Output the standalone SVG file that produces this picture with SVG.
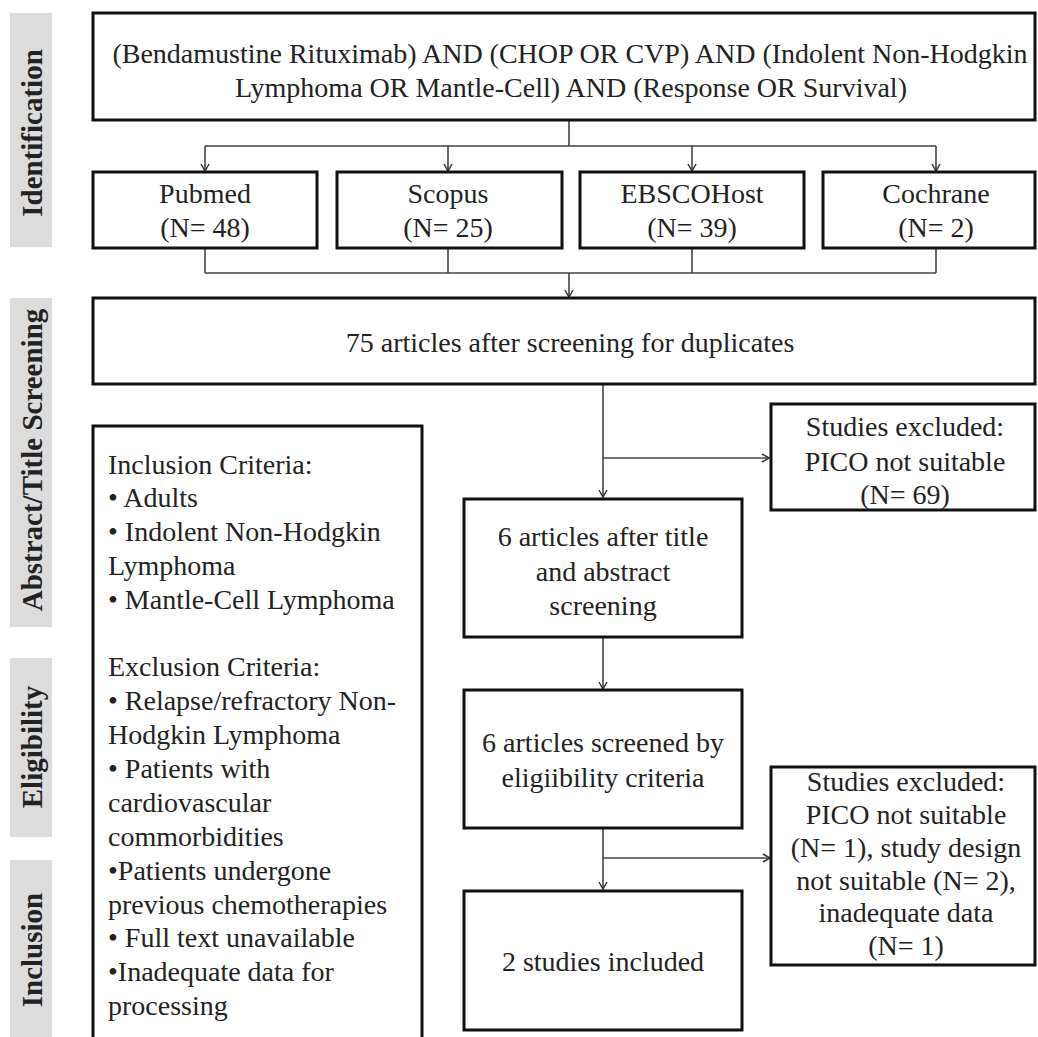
<svg xmlns="http://www.w3.org/2000/svg" width="1038" height="1037" viewBox="0 0 1038 1037">
<defs>
<marker id="arr" markerWidth="10" markerHeight="10" refX="8" refY="5" orient="auto" markerUnits="userSpaceOnUse">
<path d="M1,1 L8,5 L1,9" fill="none" stroke="#333" stroke-width="1.5"/>
</marker>
<style>
.box{fill:#fff;stroke:#111;stroke-width:3}
.lab{fill:#dcdcdc}
.lt{font-family:"Liberation Serif","Times New Roman",serif;font-weight:bold;font-size:29px;fill:#222;text-anchor:middle}
.t{font-family:"Liberation Serif","Times New Roman",serif;font-size:28px;fill:#222;text-anchor:middle}
.tl{font-family:"Liberation Serif","Times New Roman",serif;font-size:28px;fill:#222}
.c{fill:none;stroke:#444;stroke-width:1.6}
</style>
</defs>
<rect width="1038" height="1037" fill="#fff"/>
<g id="labels">
<rect class="lab" x="10" y="13" width="42" height="234"/>
<text class="lt" transform="translate(42,133) rotate(-90)">Identification</text>
<rect class="lab" x="10" y="298" width="42" height="329"/>
<text class="lt" transform="translate(42,460) rotate(-90)">Abstract/Title Screening</text>
<rect class="lab" x="10" y="658" width="42" height="179"/>
<text class="lt" transform="translate(42,747) rotate(-90)">Eligibility</text>
<rect class="lab" x="10" y="860" width="42" height="180"/>
<text class="lt" transform="translate(42,950) rotate(-90)">Inclusion</text>
</g>
<g id="connectors">
<path class="c" d="M569,121 V146 M205,146 H936"/>
<path class="c" d="M205,146 V171" marker-end="url(#arr)"/>
<path class="c" d="M448,146 V171" marker-end="url(#arr)"/>
<path class="c" d="M692,146 V171" marker-end="url(#arr)"/>
<path class="c" d="M936,146 V171" marker-end="url(#arr)"/>
<path class="c" d="M205,248 V273 M448,248 V273 M692,248 V273 M936,248 V273 M205,273 H936"/>
<path class="c" d="M569,273 V297" marker-end="url(#arr)"/>
<path class="c" d="M603,384 V497" marker-end="url(#arr)"/>
<path class="c" d="M603,458 H769" marker-end="url(#arr)"/>
<path class="c" d="M603,637 V689" marker-end="url(#arr)"/>
<path class="c" d="M603,828 V889" marker-end="url(#arr)"/>
<path class="c" d="M603,858 H770" marker-end="url(#arr)"/>
</g>
<g id="query">
<rect class="box" x="93" y="13" width="942" height="107"/>
<text class="t" x="570" y="63">(Bendamustine Rituximab) AND (CHOP OR CVP) AND (Indolent Non-Hodgkin</text>
<text class="t" x="571" y="97">Lymphoma OR Mantle-Cell) AND (Response OR Survival)</text>
</g>
<g id="pubmed">
<rect class="box" x="93" y="172" width="224" height="76"/>
<text class="t" x="205" y="203">Pubmed</text>
<text class="t" x="205" y="237">(N= 48)</text>
</g>
<g id="scopus">
<rect class="box" x="337" y="172" width="225" height="76"/>
<text class="t" x="448" y="203">Scopus</text>
<text class="t" x="448" y="237">(N= 25)</text>
</g>
<g id="ebsco">
<rect class="box" x="580" y="172" width="224" height="76"/>
<text class="t" x="692" y="203">EBSCOHost</text>
<text class="t" x="692" y="237">(N= 39)</text>
</g>
<g id="cochrane">
<rect class="box" x="823" y="172" width="212" height="76"/>
<text class="t" x="936" y="203">Cochrane</text>
<text class="t" x="936" y="237">(N= 2)</text>
</g>
<g id="dedup">
<rect class="box" x="93" y="298" width="942" height="86"/>
<text class="t" x="570" y="352">75 articles after screening for duplicates</text>
</g>
<g id="criteria">
<rect class="box" x="93" y="426" width="329" height="620"/>
<text class="tl" x="108" y="474">Inclusion Criteria:</text>
<text class="tl" x="108" y="507">• Adults</text>
<text class="tl" x="108" y="541">• Indolent Non-Hodgkin</text>
<text class="tl" x="108" y="575">Lymphoma</text>
<text class="tl" x="108" y="609">• Mantle-Cell Lymphoma</text>
<text class="tl" x="108" y="676">Exclusion Criteria:</text>
<text class="tl" x="108" y="710">• Relapse/refractory Non-</text>
<text class="tl" x="108" y="744">Hodgkin Lymphoma</text>
<text class="tl" x="108" y="778">• Patients with</text>
<text class="tl" x="108" y="812">cardiovascular</text>
<text class="tl" x="108" y="846">commorbidities</text>
<text class="tl" x="108" y="880">•Patients undergone</text>
<text class="tl" x="108" y="914">previous chemotherapies</text>
<text class="tl" x="108" y="947">• Full text unavailable</text>
<text class="tl" x="108" y="981">•Inadequate data for</text>
<text class="tl" x="108" y="1015">processing</text>
</g>
<g id="excluded1">
<rect class="box" x="771" y="404" width="264" height="106"/>
<text class="t" x="905" y="436">Studies excluded:</text>
<text class="t" x="905" y="471">PICO not suitable</text>
<text class="t" x="905" y="504">(N= 69)</text>
</g>
<g id="titleabs">
<rect class="box" x="464" y="499" width="278" height="138"/>
<text class="t" x="603" y="546">6 articles after title</text>
<text class="t" x="603" y="581">and abstract</text>
<text class="t" x="603" y="615">screening</text>
</g>
<g id="eligible">
<rect class="box" x="464" y="690" width="278" height="138"/>
<text class="t" x="603" y="752">6 articles screened by</text>
<text class="t" x="603" y="787">eligiibility criteria</text>
</g>
<g id="excluded2">
<rect class="box" x="771" y="767" width="264" height="198"/>
<text class="t" x="906" y="791">Studies excluded:</text>
<text class="t" x="906" y="824">PICO not suitable</text>
<text class="t" x="906" y="857">(N= 1), study design</text>
<text class="t" x="906" y="890">not suitable (N= 2),</text>
<text class="t" x="906" y="922">inadequate data</text>
<text class="t" x="906" y="955">(N= 1)</text>
</g>
<g id="included">
<rect class="box" x="464" y="891" width="278" height="139"/>
<text class="t" x="603" y="971">2 studies included</text>
</g>
</svg>
